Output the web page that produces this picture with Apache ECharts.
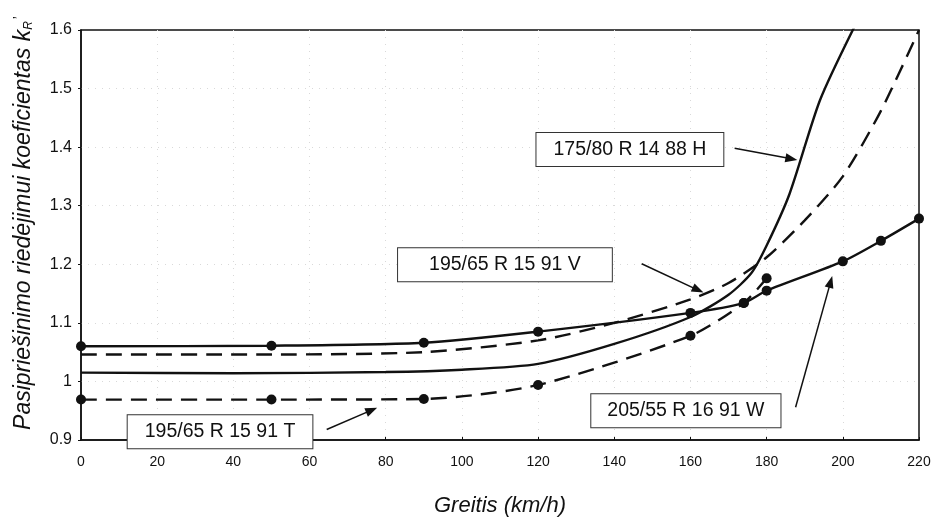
<!DOCTYPE html>
<html>
<head>
<meta charset="utf-8">
<script src="https://cdn.jsdelivr.net/npm/echarts@6/dist/echarts.min.js"></script>
<style>
html,body{margin:0;padding:0;background:#fff;}
#c{width:936px;height:518px;}
</style>
</head>
<body>
<div id="c"></div>
<script>
// Speed (km/h) and rolling resistance coefficient kR' for each tyre
var tyreW_x = [0, 50, 90, 120, 160, 174, 180, 200, 210, 220];
var tyreW_y = [1.060, 1.061, 1.066, 1.085, 1.117, 1.134, 1.155, 1.205, 1.240, 1.278];

var tyreT_x = [0, 50, 90, 120, 160, 174, 180];
var tyreT_y = [0.969, 0.969, 0.970, 0.994, 1.078, 1.134, 1.176];

var tyreV_x = [0, 50, 90, 120, 140, 160, 170, 180, 190, 200, 210, 220];
var tyreV_y = [1.046, 1.046, 1.050, 1.070, 1.100, 1.140, 1.168, 1.212, 1.275, 1.350, 1.462, 1.600];

var tyreH_x = [0, 40, 80, 100, 120, 140, 160, 170, 176, 180, 186, 194, 203];
var tyreH_y = [1.015, 1.014, 1.016, 1.020, 1.030, 1.064, 1.110, 1.148, 1.185, 1.232, 1.320, 1.480, 1.605];

var xTicks = [0, 20, 40, 60, 80, 100, 120, 140, 160, 180, 200, 220];
var yTicks = [0.9, 1.0, 1.1, 1.2, 1.3, 1.4, 1.5, 1.6];

// Annotation labels (text, anchor in data units) and arrows (from -> to in data units)
var labelH = ['175/80 R 14 88 H', 144.1, 1.396];
var labelV = ['195/65 R 15 91 V', 111.3, 1.199];
var labelW = ['205/55 R 16 91 W', 158.8, 0.950];
var labelT = ['195/65 R 15 91 T', 36.5, 0.914];
var arrowH = [171.6, 1.398, 186.5, 1.380];
var arrowV = [147.2, 1.201, 162.0, 1.156];
var arrowW = [187.6, 0.956, 196.8, 1.170];
var arrowT = [64.5, 0.918, 76.3, 0.951];

function pairs(xs, ys){ return xs.map(function(x,i){ return [x, ys[i]]; }); }

var FONT = '"Liberation Sans", Arial, sans-serif';
var INK = '#111';

function annot(label, arrow, padH){
  return {
    markPoint: {
      silent: true,
      symbol: 'rect', symbolSize: 0,
      data: [{ coord: [label[1], label[2]], value: label[0] }],
      label: {
        show: true, position: 'inside', formatter: label[0],
        fontFamily: FONT, fontSize: 19.5, color: INK,
        backgroundColor: '#fff', borderColor: '#333', borderWidth: 1,
        padding: [7, padH, 6, padH]
      }
    },
    markLine: {
      silent: true, animation: false,
      symbol: ['none', 'triangle'], symbolSize: [9, 12],
      lineStyle: { color: INK, width: 1.5, type: 'solid' },
      label: { show: false },
      data: [[{ coord: [arrow[0], arrow[1]] }, { coord: [arrow[2], arrow[3]] }]]
    }
  };
}

function series(name, data, dashed, markers, ann){
  var s = {
    name: name, type: 'line', data: data,
    smooth: 0.25,
    symbol: markers ? 'circle' : 'none', symbolSize: 10,
    showSymbol: markers,
    itemStyle: { color: INK },
    lineStyle: { color: INK, width: 2.4, type: dashed ? [16, 9] : 'solid' },
    animation: false, z: 3
  };
  return Object.assign(s, ann);
}

var gridLine = { show: true, showMinLine: false, showMaxLine: false,
                 lineStyle: { color: '#d9d9d9', type: [1, 6], width: 1 } };

var chart = echarts.init(document.getElementById('c'), null, { renderer: 'canvas' });
chart.setOption({
  backgroundColor: '#fff',
  animation: false,
  textStyle: { fontFamily: FONT },
  grid: {
    left: 81, right: 17, top: 30, bottom: 78,
    containLabel: false, outerBoundsMode: 'none',
    show: true, borderColor: INK, borderWidth: 1.5, backgroundColor: '#fff'
  },
  xAxis: {
    type: 'value', min: xTicks[0], max: xTicks[xTicks.length-1], interval: 20,
    axisLine: { show: true, lineStyle: { color: INK, width: 1.5 } },
    axisTick: { show: true, length: 3, inside: true, lineStyle: { color: INK } },
    axisLabel: { fontSize: 14, color: INK, margin: 15, fontFamily: FONT },
    splitLine: gridLine,
    name: 'Greitis (km/h)', nameLocation: 'middle', nameGap: 55,
    nameTextStyle: { fontSize: 22, fontStyle: 'italic', color: INK, fontFamily: FONT }
  },
  yAxis: {
    type: 'value', min: yTicks[0], max: yTicks[yTicks.length-1], interval: 0.1,
    axisLine: { show: true, lineStyle: { color: INK, width: 1.5 } },
    axisTick: { show: true, length: 3, lineStyle: { color: INK } },
    axisLabel: {
      fontSize: 16, color: INK, margin: 9, fontFamily: FONT,
      formatter: function(v){ return String(Number(v.toFixed(1))); }
    },
    splitLine: gridLine,
    name: '{n|Pasipriešinimo riedėjimui koeficientas k}{s|R}{p|\u2019}',
    nameLocation: 'middle', nameGap: 46, nameRotate: 90,
    nameTextStyle: {
      color: INK, fontFamily: FONT, padding: [0, 0, 0, 24],
      rich: {
        n: { fontSize: 23, fontStyle: 'italic', color: INK, fontFamily: FONT },
        s: { fontSize: 12, fontStyle: 'italic', color: INK, fontFamily: FONT, verticalAlign: 'bottom', padding: [9, 0, 0, 0] },
        p: { fontSize: 14, color: INK, fontFamily: FONT, verticalAlign: 'top', padding: [0, 0, 9, 2] }
      }
    }
  },
  series: [
    series('205/55 R 16 91 W', pairs(tyreW_x, tyreW_y), false, true, annot(labelW, arrowW, 16)),
    series('195/65 R 15 91 T', pairs(tyreT_x, tyreT_y), true, true, annot(labelT, arrowT, 17)),
    series('195/65 R 15 91 V', pairs(tyreV_x, tyreV_y), true, false, annot(labelV, arrowV, 31)),
    series('175/80 R 14 88 H', pairs(tyreH_x, tyreH_y), false, false, annot(labelH, arrowH, 17))
  ]
});
</script>
</body>
</html>
